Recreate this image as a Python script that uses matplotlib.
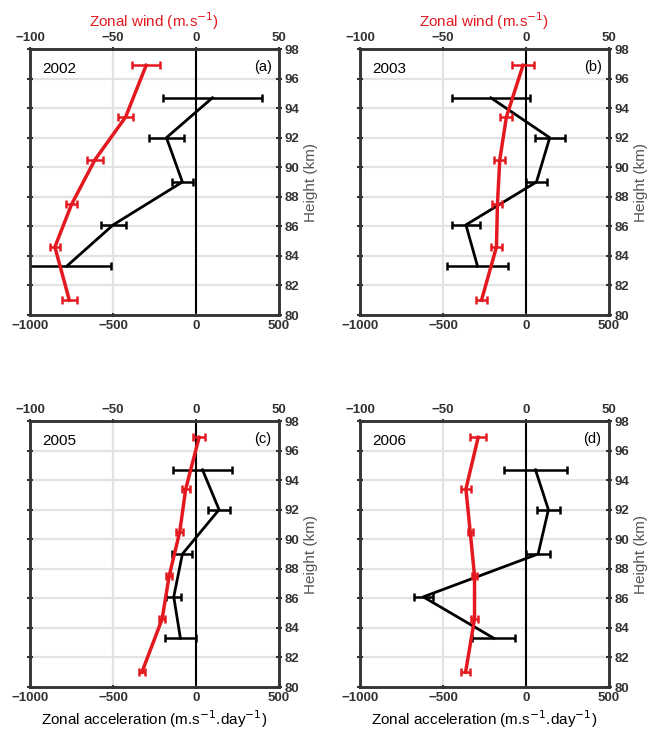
import matplotlib
matplotlib.use('Agg')
import matplotlib.pyplot as plt

plt.rcParams['font.family'] = ['Liberation Sans', 'DejaVu Sans']

RED = '#e3191f'
SPINE = '#333333'

years = ['2002', '2003', '2005', '2006']
letters = ['(a)', '(b)', '(c)', '(d)']

# zonal wind (top axis, m/s) heights and values
wind_heights = [96.9, 93.4, 90.5, 87.5, 84.6, 81.0]
wind_2002 = [-30, -42.4, -60.9, -74.9, -85.0, -76.3]
wind_err_2002 = [8.5, 4.5, 4.8, 3.3, 3.2, 4.5]
wind_2003 = [-1.8, -11.8, -15.8, -17.2, -17.8, -26.8]
wind_err_2003 = [6.5, 3.6, 3.4, 3.0, 3.4, 3.5]
wind_2005 = [1.9, -6.2, -9.8, -16.2, -20.4, -32.6]
wind_err_2005 = [3.8, 2.3, 2.0, 1.8, 2.0, 1.8]
wind_2006 = [-28.8, -36.2, -33.6, -31.0, -31.0, -36.4]
wind_err_2006 = [4.8, 3.0, 1.6, 1.4, 1.9, 2.5]

# zonal acceleration (bottom axis, m/s/day)
acc_heights = [94.7, 92.0, 89.0, 86.1, 83.3]
acc_2002 = [99, -178, -82, -499, -779]
acc_err_2002 = [300, 103, 65, 75, 266]
acc_2003 = [-212, 143, 63, -362, -292]
acc_err_2003 = [236, 89, 64, 82, 185]
acc_2005 = [39, 139, -82, -134, -94]
acc_err_2005 = [180, 64, 60, 45, 91]
acc_2006 = [57, 135, 73, -619, -194]
acc_err_2006 = [190, 69, 70, 58, 130]

winds = [wind_2002, wind_2003, wind_2005, wind_2006]
wind_errs = [wind_err_2002, wind_err_2003, wind_err_2005, wind_err_2006]
accs = [acc_2002, acc_2003, acc_2005, acc_2006]
acc_errs = [acc_err_2002, acc_err_2003, acc_err_2005, acc_err_2006]

fig = plt.figure(figsize=(6.59, 7.30), dpi=100)

positions = [(30, 49), (360, 49), (30, 421), (360, 421)]
W, H = 249, 266

for i in range(4):
    x0, y0 = positions[i]
    ax = fig.add_axes([x0 / 659, (730 - y0 - H) / 730, W / 659, H / 730])
    ax.set_xlim(-1000, 500)
    ax.set_ylim(80, 98)
    ax.set_xticks([-1000, -500, 0, 500])
    ax.set_yticks(range(80, 99, 2))
    for y in range(82, 98, 2):
        ax.axhline(y, color='#e3e3e3', lw=1.6, zorder=0)
    ax.axvline(-500, color='#e3e3e3', lw=1.6, zorder=0)
    ax.axvline(0, color='black', lw=1.5, zorder=1)

    ax.errorbar(accs[i], acc_heights, xerr=acc_errs[i], color='black', lw=2,
                elinewidth=1.8, capsize=3.2, capthick=1.8, zorder=3)

    ax.tick_params(axis='y', left=True, right=True, labelleft=False, labelright=True,
                   direction='inout', length=4, width=1.5, color=SPINE,
                   labelsize=9.5, labelcolor=SPINE, pad=2)
    ax.tick_params(axis='x', direction='inout', length=3, width=1.5, color=SPINE,
                   labelsize=9.5, labelcolor=SPINE, pad=2)
    for lab in ax.get_xticklabels() + ax.get_yticklabels():
        lab.set_fontweight('bold')
    ax.set_xticklabels(['\u22121000', '\u2212500', '0', '500'])
    for lab in ax.get_xticklabels():
        lab.set_fontweight('bold')
    for sp in ax.spines.values():
        sp.set_color(SPINE)
        sp.set_linewidth(1.8)

    ax.yaxis.set_label_position('right')
    ax.set_ylabel('Height (km)', color='#555555', fontsize=11, labelpad=3)

    ax.text(0.05, 0.95, years[i], transform=ax.transAxes, fontsize=11,
            va='top', ha='left')
    ax.text(0.97, 0.96, letters[i], transform=ax.transAxes, fontsize=10.5,
            va='top', ha='right')

    top = ax.twiny()
    top.set_xlim(-100, 50)
    top.set_xticks([-100, -50, 0, 50])
    top.set_xticklabels(['\u2212100', '\u221250', '0', '50'])
    top.tick_params(axis='x', direction='inout', length=3, width=1.5, color=SPINE,
                    labelsize=9.5, labelcolor=SPINE, pad=2)
    for lab in top.get_xticklabels():
        lab.set_fontweight('bold')
    for sp in top.spines.values():
        sp.set_color(SPINE)
        sp.set_linewidth(1.8)
    top.errorbar(winds[i], wind_heights, xerr=wind_errs[i], color=RED, lw=2.5,
                 elinewidth=1.8, capsize=2.6, capthick=1.8, zorder=4)

    if i < 2:
        top.set_xlabel('Zonal wind (m.s$^{-1}$)', color=RED, fontsize=11, labelpad=4)
    else:
        ax.set_xlabel('Zonal acceleration (m.s$^{-1}$.day$^{-1}$)', fontsize=11,
                      labelpad=3)

fig.savefig('out.png', dpi=100)
